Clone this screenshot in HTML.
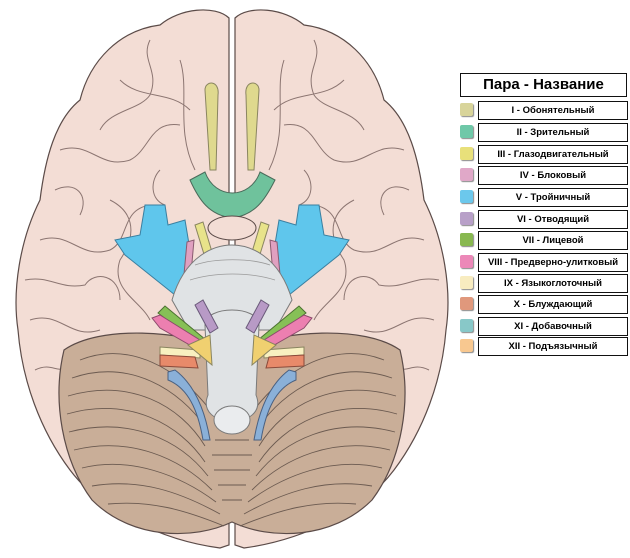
<!DOCTYPE html>
<html><head><meta charset="utf-8"><style>
body{margin:0;background:#fff;width:630px;height:558px;overflow:hidden;position:relative;font-family:"Liberation Sans",Arial,sans-serif}
.hd{position:absolute;left:460px;top:73px;width:165px;height:22px;border:1.5px solid #111;font-weight:bold;font-size:15px;text-align:center;line-height:22px}
.row{position:absolute;left:460px;width:168px;height:18px}
.sw{position:absolute;left:0;top:2px;width:13px;height:13px;border-radius:2px;box-shadow:1px 1px 1px #888}
.lb{position:absolute;left:18px;top:0;width:148px;height:17px;border:1px solid #111;font-size:9.5px;font-weight:bold;text-align:center;line-height:17px}
</style></head><body>
<svg width="460" height="558" style="position:absolute;left:0;top:0" xmlns="http://www.w3.org/2000/svg">
<g stroke="#5b4b48" stroke-width="1.2" fill="#f3ddd5">
<path d="M229,18 C215,5 180,8 160,25 C120,30 90,60 80,100 C55,120 45,160 40,200 C20,240 12,290 18,330 C22,380 40,430 70,470 C100,510 160,540 220,548 L229,545 Z"/>
<path d="M235,18 C249,5 284,8 304,25 C344,30 374,60 384,100 C409,120 419,160 424,200 C444,240 452,290 446,330 C442,380 424,430 394,470 C364,510 304,540 244,548 L235,545 Z"/>
</g>
<g stroke="#7a6360" stroke-width="1" fill="none" opacity="0.85">
<path d="M60,150 C90,140 100,170 130,160 C150,150 150,120 180,125"/>
<path d="M40,240 C70,230 80,260 110,250 C130,240 120,210 150,205"/>
<path d="M30,320 C60,310 70,340 100,330"/>
<path d="M120,80 C140,100 170,90 190,110"/>
<path d="M110,200 C130,210 140,230 120,260 C110,290 140,300 150,320"/>
<path d="M404,150 C374,140 364,170 334,160 C314,150 314,120 284,125"/>
<path d="M424,240 C394,230 384,260 354,250 C334,240 344,210 314,205"/>
<path d="M434,320 C404,310 394,340 364,330"/>
<path d="M344,80 C324,100 294,90 274,110"/>
<path d="M354,200 C334,210 324,230 344,260 C354,290 324,300 314,320"/>
<path d="M180,60 C190,90 175,130 195,170"/><path d="M284,60 C274,90 289,130 269,170"/>
<path d="M150,40 C140,60 160,70 150,95 C140,110 110,110 100,130"/>
<path d="M314,40 C324,60 304,70 314,95 C324,110 354,110 364,130"/>
<path d="M55,190 C75,180 90,195 80,215"/><path d="M409,190 C389,180 374,195 384,215"/>
<path d="M25,280 C50,275 60,290 85,285 C95,270 120,275 120,300"/>
<path d="M439,280 C414,275 404,290 379,285 C369,270 344,275 344,300"/>
<path d="M35,370 C55,360 60,380 70,360"/><path d="M429,370 C409,360 404,380 394,360"/>
<path d="M160,170 C150,180 150,200 165,205"/><path d="M304,170 C314,180 314,200 299,205"/>
</g>
<path d="M64,350 C100,325 180,330 232,350 C284,330 364,325 400,350 C412,400 402,460 372,500 C332,540 270,540 232,522 C194,540 132,540 92,500 C62,460 52,400 64,350 Z" fill="#c9ae98" stroke="#5b4b48" stroke-width="1.2"/>
<g stroke="#6b5a50" stroke-width="0.9" fill="none">
<path d="M80,360 C130,340 180,370 210,410"/><path d="M72,378 C130,358 180,390 206,428"/><path d="M68,396 C130,378 180,405 205,446"/><path d="M67,414 C130,396 180,425 205,462"/><path d="M69,432 C130,416 180,440 208,476"/><path d="M74,450 C130,436 180,458 212,490"/><path d="M82,468 C130,456 180,475 216,502"/><path d="M92,486 C140,478 180,492 220,514"/><path d="M108,504 C150,500 185,510 224,526"/>
<path d="M384,360 C334,340 284,370 254,410"/><path d="M392,378 C334,358 284,390 258,428"/><path d="M396,396 C334,378 284,405 259,446"/><path d="M397,414 C334,396 284,425 259,462"/><path d="M395,432 C334,416 284,440 256,476"/><path d="M390,450 C334,436 284,458 252,490"/><path d="M382,468 C334,456 284,475 248,502"/><path d="M372,486 C324,478 284,492 244,514"/><path d="M356,504 C314,500 279,510 240,526"/>
<path d="M215,440 L249,440 M212,455 L252,455 M214,470 L250,470 M218,485 L246,485 M222,500 L242,500"/>
</g>
<path d="M205,90 C205,80 220,80 218,95 L216,170 L210,170 Z" fill="#dfd98e" stroke="#8a8560"/>
<path d="M259,90 C259,80 244,80 246,95 L248,170 L254,170 Z" fill="#dfd98e" stroke="#8a8560"/>
<path d="M190,180 L205,172 C215,200 250,200 260,172 L275,180 C265,200 255,215 232,218 C209,215 199,200 190,180 Z" fill="#6fc29c" stroke="#4a6a5a"/>
<ellipse cx="232" cy="228" rx="24" ry="12" fill="#f3ddd5" stroke="#5b4b48"/>
<path d="M145,205 L165,205 L168,225 L185,220 L195,280 L175,295 L125,255 L115,240 L140,235 Z" fill="#5fc6ec" stroke="#3a7fa0"/>
<path d="M319,205 L299,205 L296,225 L279,220 L269,280 L289,295 L339,255 L349,240 L324,235 Z" fill="#5fc6ec" stroke="#3a7fa0"/>
<path d="M195,225 L203,222 L215,262 L207,264 Z" fill="#e8e38a" stroke="#8a8560"/>
<path d="M269,225 L261,222 L249,262 L257,264 Z" fill="#e8e38a" stroke="#8a8560"/>
<path d="M187,242 L194,240 L190,285 L183,285 Z" fill="#e0a0c0" stroke="#8a5a70"/>
<path d="M277,242 L270,240 L274,285 L281,285 Z" fill="#e0a0c0" stroke="#8a5a70"/>
<path d="M172,300 C185,255 215,245 232,245 C249,245 279,255 292,300 L275,330 L189,330 Z" fill="#e0e3e5" stroke="#7a7a7a"/>
<g stroke="#9a9a9a" fill="none" stroke-width="0.8"><path d="M195,265 C215,258 250,258 270,265"/><path d="M190,280 C215,272 250,272 275,280"/></g>
<path d="M205,325 C205,305 259,305 259,325 L256,395 C270,430 194,430 208,395 Z" fill="#e0e3e5" stroke="#7a7a7a"/>
<ellipse cx="232" cy="420" rx="18" ry="14" fill="#eaecee" stroke="#7a7a7a"/>
<path d="M195,305 L203,300 L218,328 L210,333 Z" fill="#b89ac6" stroke="#6a5a7a"/>
<path d="M269,305 L261,300 L246,328 L254,333 Z" fill="#b89ac6" stroke="#6a5a7a"/>
<path d="M158,313 L165,306 L206,340 L200,345 Z" fill="#86c056" stroke="#4a7030"/>
<path d="M306,313 L299,306 L258,340 L264,345 Z" fill="#86c056" stroke="#4a7030"/>
<path d="M152,318 L160,328 L195,348 L200,340 L160,315 Z" fill="#ec7fb0" stroke="#8a4a6a"/>
<path d="M312,318 L304,328 L269,348 L264,340 L304,315 Z" fill="#ec7fb0" stroke="#8a4a6a"/>
<path d="M160,347 L200,350 L200,358 L160,355 Z" fill="#f8f0c0" stroke="#8a8560"/>
<path d="M304,347 L264,350 L264,358 L304,355 Z" fill="#f8f0c0" stroke="#8a8560"/>
<path d="M160,355 L195,357 L198,368 L160,366 Z" fill="#e88a6a" stroke="#8a4a3a"/>
<path d="M304,355 L269,357 L266,368 L304,366 Z" fill="#e88a6a" stroke="#8a4a3a"/>
<path d="M188,345 L210,335 L212,365 Z" fill="#f0d070" stroke="#8a8560"/>
<path d="M276,345 L254,335 L252,365 Z" fill="#f0d070" stroke="#8a8560"/>
<path d="M168,372 L175,370 C195,385 205,410 210,440 L203,440 C198,410 188,388 168,380 Z" fill="#8ab0d8" stroke="#4a6080"/>
<path d="M296,372 L289,370 C269,385 259,410 254,440 L261,440 C266,410 276,388 296,380 Z" fill="#8ab0d8" stroke="#4a6080"/>
</svg>
<div class="hd">Пара - Название</div>
<div class="row" style="top:101px"><div class="sw" style="background:#d8d49a"></div><div class="lb">I - Обонятельный</div></div>
<div class="row" style="top:123px"><div class="sw" style="background:#6fc8a8"></div><div class="lb">II - Зрительный</div></div>
<div class="row" style="top:145px"><div class="sw" style="background:#e8e07a"></div><div class="lb">III - Глазодвигательный</div></div>
<div class="row" style="top:166px"><div class="sw" style="background:#e0a8c8"></div><div class="lb">IV - Блоковый</div></div>
<div class="row" style="top:188px"><div class="sw" style="background:#6cc8ec"></div><div class="lb">V - Тройничный</div></div>
<div class="row" style="top:210px"><div class="sw" style="background:#b8a0c8"></div><div class="lb">VI - Отводящий</div></div>
<div class="row" style="top:231px"><div class="sw" style="background:#88b850"></div><div class="lb">VII - Лицевой</div></div>
<div class="row" style="top:253px"><div class="sw" style="background:#ec88b8"></div><div class="lb">VIII - Предверно-улитковый</div></div>
<div class="row" style="top:274px"><div class="sw" style="background:#f8ecc0"></div><div class="lb">IX - Языкоглоточный</div></div>
<div class="row" style="top:295px"><div class="sw" style="background:#e0987c"></div><div class="lb">X - Блуждающий</div></div>
<div class="row" style="top:317px"><div class="sw" style="background:#88c8c8"></div><div class="lb">XI - Добавочный</div></div>
<div class="row" style="top:337px"><div class="sw" style="background:#f8c890"></div><div class="lb">XII - Подъязычный</div></div>
</body></html>
